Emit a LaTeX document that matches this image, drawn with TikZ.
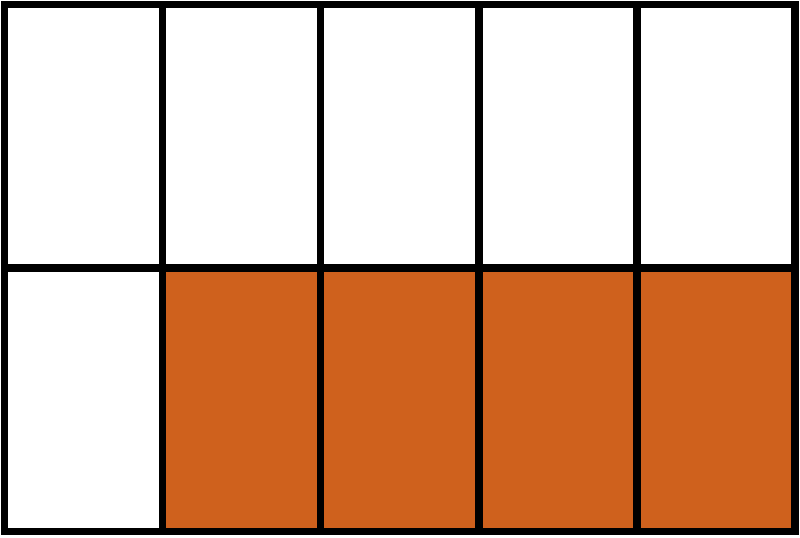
\documentclass[tikz,border=0pt]{standalone}
\definecolor{cellorange}{RGB}{207,97,29}
\begin{document}
\begin{tikzpicture}[x=0.5pt,y=0.5pt]
    \tikzset{gridline/.style={draw=black,line width=3.75pt},
             shaded/.style={fill=cellorange}}
    \useasboundingbox (0,0) rectangle (800,537);

    % shaded cells of the lower row
    \foreach \i in {1,...,4}
        \path[shaded] (4.5+158.1*\i,5.5) rectangle ++(158.1,263.5);

    % the grid
    \foreach \i in {0,...,4}
        \foreach \j in {0,1}
            \path[gridline] (4.5+158.1*\i,5.5+263.5*\j) rectangle ++(158.1,263.5);

\end{tikzpicture}
\end{document}
